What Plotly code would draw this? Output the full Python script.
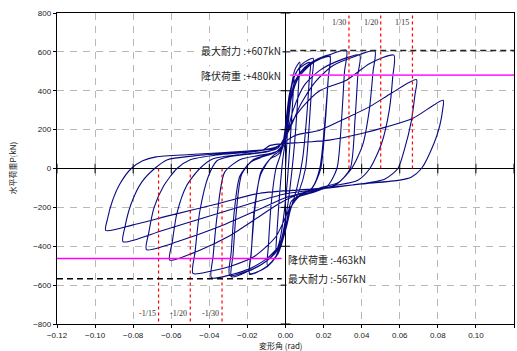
import plotly.graph_objects as go

# ---------------- data ----------------
X_TICKS = [-0.12, -0.10, -0.08, -0.06, -0.04, -0.02, 0.00, 0.02, 0.04, 0.06, 0.08, 0.10, 0.12]
Y_TICKS = [-800, -600, -400, -200, 0, 200, 400, 600, 800]

# hysteresis loops: drift angle (rad) and horizontal load (kN)
C01_D = [0, 0.0008, 0.0018, 0.003, 0.0045, 0.004, 0.0025, 0.001, -0.001, -0.003, -0.005, -0.0045, -0.003, -0.0015]
C01_P = [0, 150, 300, 410, 470, 380, 150, -60, -250, -370, -430, -330, -120, 40]
C02_D = [0.0, 0.0015, 0.003, 0.005, 0.0075, 0.007, 0.0055, 0.0035, 0.001, -0.002, -0.005, -0.0095, -0.009, -0.0075, -0.005, -0.003]
C02_P = [150, 300, 420, 510, 548, 450, 220, 0, -200, -360, -450, -500, -400, -180, 0, 60]
C03_D = [-0.001, 0.001, 0.003, 0.006, 0.01, 0.013, 0.0125, 0.011, 0.009, 0.006, 0.003, 0.0, -0.003, -0.007, -0.012, -0.0188, -0.018, -0.016, -0.013, -0.009, -0.006, -0.003]
C03_P = [130, 280, 420, 500, 535, 545, 460, 250, 50, -100, -200, -300, -410, -480, -520, -540, -430, -200, -20, 40, 70, 90]
C04_D = [-0.001, 0.002, 0.005, 0.009, 0.0145, 0.014, 0.0125, 0.0105, 0.007, 0.003, 0.0005, -0.004, -0.01, -0.0188, -0.018, -0.0165, -0.013, -0.008, -0.005, -0.003]
C04_P = [150, 380, 480, 540, 567, 470, 230, 0, -120, -200, -300, -440, -505, -545, -440, -220, -30, 50, 65, 80]
C05_D = [-0.001, 0.002, 0.005, 0.01, 0.017, 0.0233, 0.0225, 0.0205, 0.018, 0.014, 0.008, 0.003, 0.001, -0.004, -0.01, -0.018, -0.0293, -0.0285, -0.027, -0.024, -0.018, -0.012, -0.006, -0.002]
C05_P = [120, 330, 450, 520, 565, 583, 470, 220, 0, -100, -140, -170, -260, -410, -475, -520, -549, -430, -230, -40, 35, 60, 80, 110]
C06_D = [0.0, 0.003, 0.007, 0.014, 0.0233, 0.0225, 0.021, 0.0185, 0.014, 0.008, 0.003, 0.0, -0.005, -0.012, -0.02, -0.0284, -0.0275, -0.026, -0.023, -0.017, -0.01, -0.005, -0.001]
C06_P = [170, 360, 480, 545, 575, 470, 250, 0, -100, -135, -170, -300, -430, -490, -530, -557, -440, -240, -30, 45, 70, 85, 130]
C07_D = [0.001, 0.003, 0.007, 0.014, 0.022, 0.032, 0.031, 0.0295, 0.027, 0.022, 0.014, 0.006, 0.002, -0.002, -0.01, -0.02, -0.03, -0.0389, -0.038, -0.036, -0.032, -0.024, -0.015, -0.007, -0.002]
C07_P = [200, 360, 470, 540, 580, 608, 500, 260, 0, -90, -125, -150, -220, -380, -465, -520, -550, -562, -450, -250, -20, 45, 65, 80, 100]
C08_D = [0.0, 0.004, 0.01, 0.018, 0.028, 0.039, 0.038, 0.0365, 0.034, 0.027, 0.016, 0.007, 0.002, -0.005, -0.016, -0.028, -0.04, -0.0486, -0.0475, -0.045, -0.0405, -0.036, -0.03, -0.018, -0.008, -0.002]
C08_P = [150, 300, 430, 505, 555, 583, 480, 250, 0, -80, -115, -145, -210, -350, -450, -500, -530, -540, -430, -220, -40, 40, 60, 75, 90, 130]
C09_D = [0.002, 0.008, 0.016, 0.025, 0.036, 0.0469, 0.046, 0.044, 0.0405, 0.0347, 0.028, 0.018, 0.006, -0.005, -0.015, -0.03, -0.045, -0.0608, -0.0595, -0.057, -0.052, -0.045, -0.038, -0.025, -0.012, -0.004]
C09_P = [200, 330, 450, 530, 575, 605, 500, 300, 120, 0, -70, -100, -135, -190, -255, -350, -420, -471, -380, -230, -90, 0, 50, 70, 85, 105]
C10_D = [0.004, 0.009, 0.018, 0.032, 0.0443, 0.0569, 0.0563, 0.0545, 0.0505, 0.0443, 0.038, 0.025, 0.01, 0.0, -0.015, -0.035, -0.055, -0.073, -0.0718, -0.069, -0.064, -0.057, -0.05, -0.036, -0.018, -0.005]
C10_P = [250, 317, 400, 454, 540, 583, 470, 300, 130, 0, -60, -90, -125, -150, -215, -300, -370, -417, -330, -200, -90, 0, 45, 70, 85, 110]
C11_D = [0.005, 0.018, 0.032, 0.044, 0.056, 0.0688, 0.068, 0.066, 0.0625, 0.059, 0.052, 0.035, 0.015, 0.0, -0.02, -0.045, -0.065, -0.0853, -0.0843, -0.081, -0.0755, -0.0687, -0.062, -0.048, -0.03, -0.012]
C11_P = [170, 197, 260, 317, 390, 457, 380, 240, 100, 0, -55, -85, -110, -130, -185, -260, -320, -377, -300, -180, -70, 0, 45, 65, 80, 95]
C12_D = [-0.008, 0.01, 0.023, 0.04, 0.053, 0.067, 0.0828, 0.0825, 0.081, 0.078, 0.0714, 0.066, 0.06, 0.04, 0.015, -0.0135, -0.035, -0.06, -0.08, -0.0944, -0.0935, -0.091, -0.087, -0.081, -0.075, -0.068, -0.05, -0.036, -0.02, -0.005]
C12_P = [119, 135, 146, 180, 214, 259, 351, 300, 220, 130, 0, -45, -60, -80, -105, -127, -180, -240, -290, -318, -260, -170, -80, 0, 40, 60, 72, 80, 90, 100]

LOOPS_D = [C01_D, C02_D, C03_D, C04_D, C05_D, C06_D, C07_D, C08_D, C09_D, C10_D, C11_D, C12_D]
LOOPS_P = [C01_P, C02_P, C03_P, C04_P, C05_P, C06_P, C07_P, C08_P, C09_P, C10_P, C11_P, C12_P]

# reference levels
MAX_POS, YIELD_POS = 607, 480
MAX_NEG, YIELD_NEG = -567, -463
DRIFT_LIMITS = [1 / 30, 1 / 20, 1 / 15]
DRIFT_LABELS_POS = ["1/30", "1/20", "1/15"]
DRIFT_LABELS_NEG = ["-1/30", "-1/20", "-1/15"]

LABEL_MAX_POS = "最大耐力 :+607kN"
LABEL_YIELD_POS = "降伏荷重 :+480kN"
LABEL_YIELD_NEG = "降伏荷重 :-463kN"
LABEL_MAX_NEG = "最大耐力 :-567kN"
X_TITLE = "変形角 (rad)"
Y_TITLE = "水平荷重P(kN)"

# ---------------- figure ----------------
XMIN, XMAX, YMIN, YMAX = -0.12, 0.12, -800, 800
CJK = "Noto Sans CJK JP"
fig = go.Figure()

all_d, all_p = [], []
for d, p in zip(LOOPS_D, LOOPS_P):
    all_d += d
    all_p += p
fig.add_trace(go.Scatter(x=all_d, y=all_p, mode="lines",
                         line=dict(color="#0a0a80", width=1.1, shape="spline", smoothing=0.7),
                         hoverinfo="skip", showlegend=False))

# small tick marks on the zero axes
fig.add_trace(go.Scatter(x=[t for t in X_TICKS if t != 0], y=[0] * (len(X_TICKS) - 1), mode="markers",
                         marker=dict(symbol="line-ns", size=7, line=dict(color="black", width=1)),
                         hoverinfo="skip", showlegend=False))
fig.add_trace(go.Scatter(x=[0] * (len(Y_TICKS) - 1), y=[t for t in Y_TICKS if t != 0], mode="markers",
                         marker=dict(symbol="line-ew", size=7, line=dict(color="black", width=1)),
                         hoverinfo="skip", showlegend=False))

# drift-limit lines
for v in DRIFT_LIMITS:
    fig.add_trace(go.Scatter(x=[v, v], y=[0, YMAX], mode="lines",
                             line=dict(color="red", width=1.2, dash="dot"), hoverinfo="skip", showlegend=False))
    fig.add_trace(go.Scatter(x=[-v, -v], y=[0, YMIN], mode="lines",
                             line=dict(color="red", width=1.2, dash="dot"), hoverinfo="skip", showlegend=False))

# load levels
fig.add_trace(go.Scatter(x=[0.0025, XMAX], y=[MAX_POS, MAX_POS], mode="lines",
                         line=dict(color="#222", width=1.7, dash="6px,4px"), hoverinfo="skip", showlegend=False))
fig.add_trace(go.Scatter(x=[0.0025, XMAX], y=[YIELD_POS, YIELD_POS], mode="lines",
                         line=dict(color="#ff33ff", width=1.8), hoverinfo="skip", showlegend=False))
fig.add_trace(go.Scatter(x=[XMIN, -0.002], y=[YIELD_NEG, YIELD_NEG], mode="lines",
                         line=dict(color="#ff00ff", width=1.6), hoverinfo="skip", showlegend=False))
fig.add_trace(go.Scatter(x=[XMIN, -0.002], y=[MAX_NEG, MAX_NEG], mode="lines",
                         line=dict(color="black", width=1.6, dash="6px,4px"), hoverinfo="skip", showlegend=False))

ann = []
lab_font = dict(family=CJK, size=10, color="#222")
ann.append(dict(x=-0.0015, y=MAX_POS, xref="x", yref="y", text=LABEL_MAX_POS, showarrow=False,
                xanchor="right", yanchor="middle", font=lab_font, bgcolor="white", borderpad=1))
ann.append(dict(x=-0.0015, y=YIELD_POS, xref="x", yref="y", text=LABEL_YIELD_POS, showarrow=False,
                xanchor="right", yanchor="middle", font=lab_font, bgcolor="white", borderpad=1))
ann.append(dict(x=0.0, y=YIELD_NEG - 5, xref="x", yref="y", text=LABEL_YIELD_NEG, showarrow=False,
                xanchor="left", yanchor="middle", font=lab_font, bgcolor="white", borderpad=1))
ann.append(dict(x=0.0, y=MAX_NEG + 3, xref="x", yref="y", text=LABEL_MAX_NEG, showarrow=False,
                xanchor="left", yanchor="middle", font=lab_font, bgcolor="white", borderpad=1))

serif = dict(family="Liberation Serif", size=8, color="#333")
for v, t in zip(DRIFT_LIMITS, DRIFT_LABELS_POS):
    ann.append(dict(x=v, y=752, xref="x", yref="y", text=t, showarrow=False,
                    xanchor="right", yanchor="middle", xshift=-1, font=serif))
for v, t in zip(DRIFT_LIMITS, DRIFT_LABELS_NEG):
    ann.append(dict(x=-v, y=-746, xref="x", yref="y", text=t, showarrow=False,
                    xanchor="right", yanchor="middle", xshift=-1, font=serif))

ann.append(dict(x=-0.0025, y=0, xref="x", yref="paper", text=X_TITLE, showarrow=False,
                xanchor="center", yanchor="top", yshift=-14, font=dict(family=CJK, size=8, color="#222")))
ann.append(dict(x=0, y=0, xref="paper", yref="y", text=Y_TITLE, showarrow=False, textangle=-90,
                xanchor="center", yanchor="middle", xshift=-45, font=dict(family=CJK, size=8, color="#222")))

axis_common = dict(showline=True, linecolor="black", linewidth=1.2, mirror=True, automargin=False,
                   showgrid=True, gridcolor="#b8b8b8", gridwidth=1, griddash="7px,6px",
                   zeroline=True, zerolinecolor="black", zerolinewidth=1.3,
                   ticks="outside", ticklen=3, tickcolor="black",
                   tickfont=dict(family="Liberation Sans", size=8, color="#222"))

fig.update_layout(
    width=517, height=351,
    margin=dict(l=57, r=3, t=13, b=27, autoexpand=False),
    paper_bgcolor="white", plot_bgcolor="white",
    xaxis=dict(range=[XMIN, XMAX], tickvals=X_TICKS, tickformat=".2f", **axis_common),
    yaxis=dict(range=[YMIN, YMAX], tickvals=Y_TICKS, tickformat="d", **axis_common),
    annotations=ann,
    showlegend=False,
)

fig.write_html("out.html", config={"displayModeBar": False, "staticPlot": True},
               post_script="document.body.style.margin='0px';document.body.style.overflow='hidden';")
